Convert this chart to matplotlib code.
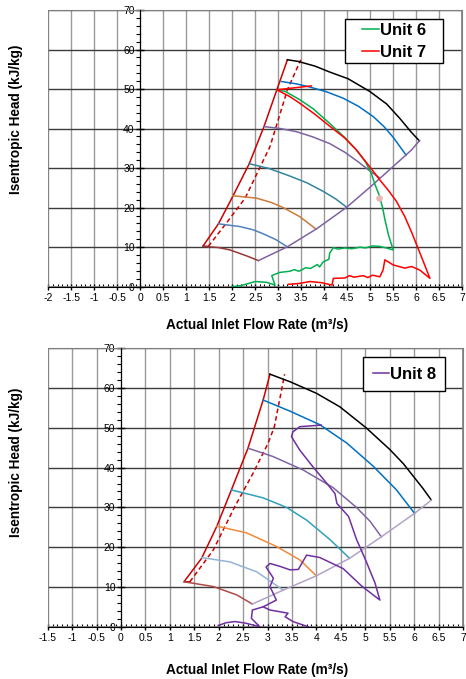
import numpy as np
import matplotlib
matplotlib.use("Agg")
import matplotlib.pyplot as plt
from matplotlib.ticker import MultipleLocator, FuncFormatter
from matplotlib.patches import Rectangle

plt.rcParams['font.family'] = ['Liberation Sans', 'DejaVu Sans']

# ---------------- top chart: units 6 and 7 ----------------
t_surge_x = [1.48, 1.36, 1.70, 2.01, 2.37, 2.69, 2.97, 3.20]
t_surge_y = [10.2, 10.2, 15.9, 22.8, 31.1, 40.5, 49.8, 57.4]
t_dash_x = [1.48, 1.90, 2.28, 2.82, 3.20, 3.49]
t_dash_y = [10.2, 16.5, 22.4, 35.4, 49.8, 57.4]

t_black_x = [3.20, 3.43, 3.80, 4.12, 4.52, 4.99, 5.36, 5.65, 5.90, 6.07]
t_black_y = [57.4, 57.0, 55.8, 54.3, 52.6, 49.4, 46.2, 42.5, 39.0, 36.9]
t_blue_x = [3.07, 3.40, 3.69, 4.05, 4.41, 4.75, 5.07, 5.30, 5.50, 5.78]
t_blue_y = [51.9, 51.3, 50.5, 49.3, 47.7, 45.6, 43.0, 40.5, 37.8, 33.3]
t_purple_x = [2.69, 3.05, 3.40, 3.75, 4.12, 4.45, 4.75, 5.00, 5.20]
t_purple_y = [40.5, 40.0, 39.2, 37.9, 36.2, 34.0, 31.5, 29.2, 27.6]
t_teal_x = [2.37, 2.80, 3.25, 3.62, 3.98, 4.25, 4.49]
t_teal_y = [31.1, 29.9, 28.0, 26.3, 24.1, 22.2, 20.1]
t_orange_x = [2.01, 2.53, 2.85, 3.11, 3.47, 3.82]
t_orange_y = [23.0, 22.4, 21.3, 20.0, 17.7, 14.6]
t_steel_x = [1.70, 2.17, 2.45, 2.67, 2.95, 3.18]
t_steel_y = [15.9, 15.2, 14.4, 13.4, 11.9, 10.2]
t_brown_x = [1.36, 1.70, 1.95, 2.31, 2.57]
t_brown_y = [10.2, 9.9, 9.3, 7.8, 6.6]
t_choke_x = [2.57, 3.20, 3.83, 4.49, 5.00, 5.50, 5.90, 6.07]
t_choke_y = [6.6, 10.1, 14.6, 20.1, 25.2, 30.4, 34.6, 36.9]

unit6_x = [2.97, 3.15, 3.47, 3.76, 4.12, 4.45, 4.70, 4.90, 5.02, 5.10, 5.20, 5.27,
           5.32, 5.40, 5.50, 5.35, 5.20, 5.05, 4.90, 4.78, 4.60, 4.45, 4.30, 4.20,
           4.12, 4.10, 3.98, 3.90, 3.85, 3.70, 3.60, 3.45, 3.35, 3.25, 3.03, 2.86,
           2.93, 2.75, 2.50, 2.20, 2.00]
unit6_y = [49.8, 49.4, 47.3, 45.0, 41.3, 37.7, 34.6, 31.5, 28.8, 26.0, 23.0, 20.0,
           17.0, 13.0, 9.3, 9.8, 10.2, 10.3, 9.8, 10.0, 9.6, 9.8, 9.5, 9.9,
           8.5, 6.9, 6.3, 5.0, 5.6, 4.6, 4.8, 3.9, 4.3, 3.9, 3.6, 2.8,
           0.4, 1.1, 1.3, 0.3, 0.0]
unit7_x = [3.72, 2.97, 3.25, 3.47, 3.80, 4.12, 4.45, 4.70, 5.00, 5.21, 5.40, 5.57,
           5.75, 5.90, 6.10, 6.30, 6.08, 5.90, 5.75, 5.50, 5.32, 5.28, 5.21, 5.05,
           4.95, 4.85, 4.65, 4.55, 4.45, 4.20, 4.17, 3.95, 3.69, 3.45, 3.22]
unit7_y = [50.8, 49.8, 48.1, 46.4, 43.6, 40.6, 37.6, 34.6, 30.2, 27.0, 24.3, 21.6,
           17.8, 13.8, 8.0, 2.1, 4.2, 5.1, 4.7, 5.5, 6.8, 4.2, 2.5, 2.9,
           2.3, 2.8, 2.4, 2.8, 2.2, 2.1, 0.4, 1.0, 1.3, 0.8, 0.6]
dot_x = [5.19]
dot_y = [22.5]

# ---------------- bottom chart: unit 8 ----------------
b_surge_x = [1.41, 1.29, 1.65, 1.96, 2.26, 2.60, 2.91, 3.05]
b_surge_y = [11.3, 11.3, 17.2, 25.2, 34.4, 44.9, 57.0, 63.5]
b_dash_x = [1.41, 1.89, 2.33, 2.70, 3.01, 3.14, 3.35]
b_dash_y = [11.3, 19.3, 30.2, 38.5, 46.1, 50.3, 63.5]

b_black_x = [3.05, 3.46, 4.00, 4.48, 5.02, 5.50, 5.78, 5.98, 6.18, 6.35]
b_black_y = [63.5, 61.6, 58.7, 55.3, 50.0, 44.6, 41.0, 37.9, 34.8, 31.9]
b_blue_x = [2.91, 3.46, 4.07, 4.62, 5.16, 5.64, 6.01]
b_blue_y = [57.0, 54.2, 50.8, 46.2, 40.4, 34.4, 28.5]
b_purple_x = [2.60, 3.11, 3.73, 4.34, 4.82, 5.10, 5.33]
b_purple_y = [44.9, 42.8, 39.4, 35.0, 30.0, 26.5, 22.6]
b_teal_x = [2.26, 2.91, 3.39, 3.80, 4.27, 4.68]
b_teal_y = [34.4, 32.4, 30.0, 26.8, 22.0, 17.2]
b_orange_x = [1.96, 2.57, 3.18, 3.66, 4.00]
b_orange_y = [25.3, 23.6, 20.2, 16.8, 12.8]
b_light_x = [1.65, 2.23, 2.78, 3.32]
b_light_y = [17.4, 16.3, 13.8, 9.2]
b_brown_x = [1.29, 1.89, 2.37, 2.69]
b_brown_y = [11.3, 10.1, 8.0, 5.7]
b_choke_x = [2.69, 3.32, 4.00, 4.68, 5.33, 6.01, 6.35]
b_choke_y = [5.7, 9.2, 12.8, 17.2, 22.6, 28.5, 31.8]

unit8_x = [1.99, 2.15, 2.33, 2.55, 2.84, 2.67, 2.69, 2.91, 3.18, 3.05, 3.12, 2.97,
           3.05, 3.25, 3.46, 3.63, 3.70, 3.80, 4.07, 4.55, 4.93, 5.30, 5.20, 5.00,
           4.82, 4.66, 4.42, 4.38, 4.21, 3.93, 3.66, 3.49, 3.52, 3.66, 4.10]
unit8_y = [0.3, 1.0, 1.3, 0.9, 0.0, 2.1, 4.2, 5.0, 6.7, 10.1, 12.2, 15.0,
           15.9, 15.2, 14.3, 14.4, 15.9, 18.0, 17.4, 14.6, 10.2, 6.7, 11.0, 17.0,
           22.0, 27.7, 31.0, 33.5, 36.1, 40.2, 44.4, 47.8, 49.0, 50.3, 50.7]
unit8b_x = [3.83, 3.52, 3.36, 3.42, 3.05, 2.91]
unit8b_y = [0.0, 1.3, 2.5, 3.4, 4.2, 5.0]


def style(ax, xmin):
    ax.set_xlim(xmin, 7)
    ax.set_ylim(0, 70)
    ax.xaxis.set_major_locator(MultipleLocator(0.5))
    ax.xaxis.set_minor_locator(MultipleLocator(0.1))
    ax.yaxis.set_major_locator(MultipleLocator(10))
    ax.yaxis.set_minor_locator(MultipleLocator(2))
    ax.xaxis.set_major_formatter(FuncFormatter(lambda v, p: f'{v:g}'))
    ax.spines['left'].set_position(('data', 0))
    ax.spines['left'].set_color('black')
    ax.spines['bottom'].set_color('black')
    ax.spines['left'].set_zorder(4)
    ax.spines['bottom'].set_zorder(4)
    for s in ['top', 'right']:
        ax.spines[s].set_color('#808080')
    ax.add_patch(Rectangle((0, 0), 1, 1, transform=ax.transAxes, fill=False,
                           ec='#808080', lw=1.2, zorder=1))
    ax.grid(axis='x', which='major', color='#9a9a9a', lw=1.0, zorder=0)
    ax.grid(axis='y', which='major', color='#3c3c3c', lw=1.0, zorder=0)
    ax.set_axisbelow(True)
    ax.tick_params(axis='x', which='major', direction='inout', length=5, width=1,
                   labelsize=7.5, pad=2, labelcolor='black')
    ax.tick_params(axis='x', which='minor', direction='in', length=2.5, width=0.8)
    ax.tick_params(axis='y', which='major', direction='inout', length=6, width=1,
                   labelsize=7.5, pad=1, labelcolor='black')
    ax.tick_params(axis='y', which='minor', direction='out', length=3, width=0.8)


fig = plt.figure(figsize=(4.66, 6.79), dpi=100)
ax1 = fig.add_axes([0.1037, 0.5778, 0.888, 0.4075])
ax2 = fig.add_axes([0.1024, 0.0770, 0.891, 0.410])
style(ax1, -2)
style(ax2, -1.5)

lw = 1.1
# top
ax1.plot(t_surge_x, t_surge_y, color='#cc0000', lw=lw, zorder=3)
ax1.plot(t_dash_x, t_dash_y, color='#cc0000', lw=lw, ls=(0, (3, 2)), zorder=3)
ax1.plot(t_black_x, t_black_y, color='black', lw=lw, zorder=3)
ax1.plot(t_blue_x, t_blue_y, color='#0070c0', lw=lw, zorder=3)
ax1.plot(t_purple_x, t_purple_y, color='#7f63a1', lw=lw, zorder=3)
ax1.plot(t_teal_x, t_teal_y, color='#31859c', lw=lw, zorder=3)
ax1.plot(t_orange_x, t_orange_y, color='#cc7a38', lw=lw, zorder=3)
ax1.plot(t_steel_x, t_steel_y, color='#4f81bd', lw=lw, zorder=3)
ax1.plot(t_brown_x, t_brown_y, color='#953735', lw=lw, zorder=3)
ax1.plot(t_choke_x, t_choke_y, color='#7f63a1', lw=lw, zorder=3)
ax1.plot(unit6_x, unit6_y, color='#00b050', lw=lw, zorder=3, label='Unit 6')
ax1.plot(unit7_x, unit7_y, color='#ff0000', lw=lw, zorder=3, label='Unit 7')
ax1.scatter(dot_x, dot_y, s=14, color='#e6b9b8', zorder=4)

# bottom
ax2.plot(b_surge_x, b_surge_y, color='#cc0000', lw=lw, zorder=3)
ax2.plot(b_dash_x, b_dash_y, color='#cc0000', lw=lw, ls=(0, (3, 2)), zorder=3)
ax2.plot(b_black_x, b_black_y, color='black', lw=lw, zorder=3)
ax2.plot(b_blue_x, b_blue_y, color='#0070c0', lw=lw, zorder=3)
ax2.plot(b_purple_x, b_purple_y, color='#8064a2', lw=lw, zorder=3)
ax2.plot(b_teal_x, b_teal_y, color='#31a0b8', lw=lw, zorder=3)
ax2.plot(b_orange_x, b_orange_y, color='#f08a3c', lw=lw, zorder=3)
ax2.plot(b_light_x, b_light_y, color='#95b3d7', lw=lw, zorder=3)
ax2.plot(b_brown_x, b_brown_y, color='#b04a48', lw=lw, zorder=3)
ax2.plot(b_choke_x, b_choke_y, color='#b3a2c7', lw=lw, zorder=3)
ax2.plot(unit8_x, unit8_y, color='#7030a0', lw=lw, zorder=3, label='Unit 8')
ax2.plot(unit8b_x, unit8b_y, color='#7030a0', lw=lw, zorder=3)

# legend boxes (axes fractions) drawn as patches, legend text centred in them
for ax, box in [(ax1, (0.7174, 0.8073, 0.2367, 0.159)),
                (ax2, (0.760, 0.847, 0.198, 0.121))]:
    ax.add_patch(Rectangle(box[:2], box[2], box[3], transform=ax.transAxes,
                           fc='white', ec='black', lw=1.0, zorder=9))
    leg = ax.legend(loc='center', bbox_to_anchor=(box[0] + box[2] / 2, box[1] + box[3] / 2),
                    frameon=False, handlelength=1.0, handletextpad=0.05,
                    borderpad=0, borderaxespad=0, labelspacing=0.45,
                    prop={'weight': 'bold', 'size': 12})
    leg.set_zorder(10)

xlabel = 'Actual Inlet Flow Rate (m\u00b3/s)'
ylabel = 'Isentropic Head (kJ/kg)'
fig.text(257 / 466, 1 - 325 / 679, xlabel, ha='center', va='center',
         fontsize=9.8, fontweight='bold')
fig.text(257 / 466, 1 - 670 / 679, xlabel, ha='center', va='center',
         fontsize=9.8, fontweight='bold')
fig.text(16 / 466, 1 - 119 / 679, ylabel, ha='center', va='center',
         rotation=90, fontsize=9.8, fontweight='bold')
fig.text(16 / 466, 1 - 462 / 679, ylabel, ha='center', va='center',
         rotation=90, fontsize=9.8, fontweight='bold')

fig.savefig('out.png', dpi=100)
